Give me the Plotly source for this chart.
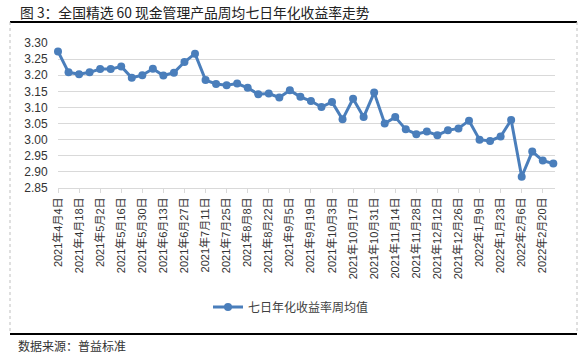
import plotly.graph_objects as go

weeks = [
    "2021-04-04", "2021-04-11", "2021-04-18", "2021-04-25", "2021-05-02", "2021-05-09",
    "2021-05-16", "2021-05-23", "2021-05-30", "2021-06-06", "2021-06-13", "2021-06-20",
    "2021-06-27", "2021-07-04", "2021-07-11", "2021-07-18", "2021-07-25", "2021-08-01",
    "2021-08-08", "2021-08-15", "2021-08-22", "2021-08-29", "2021-09-05", "2021-09-12",
    "2021-09-19", "2021-09-26", "2021-10-03", "2021-10-10", "2021-10-17", "2021-10-24",
    "2021-10-31", "2021-11-07", "2021-11-14", "2021-11-21", "2021-11-28", "2021-12-05",
    "2021-12-12", "2021-12-19", "2021-12-26", "2022-01-02", "2022-01-09", "2022-01-16",
    "2022-01-23", "2022-01-30", "2022-02-06", "2022-02-13", "2022-02-20", "2022-02-27",
]

yield_7d = [
    3.274, 3.209, 3.203, 3.209, 3.219, 3.219, 3.227, 3.192, 3.200, 3.220, 3.199, 3.208,
    3.241, 3.267, 3.185, 3.173, 3.169, 3.174, 3.161, 3.141, 3.143, 3.131, 3.153, 3.133,
    3.120, 3.101, 3.117, 3.063, 3.127, 3.070, 3.146, 3.050, 3.070, 3.032, 3.017, 3.025,
    3.014, 3.029, 3.035, 3.059, 3.000, 2.996, 3.010, 3.061, 2.885, 2.963, 2.935, 2.926,
]

tick_labels = [
    "2021年4月4日", "2021年4月18日", "2021年5月2日", "2021年5月16日", "2021年5月30日",
    "2021年6月13日", "2021年6月27日", "2021年7月11日", "2021年7月25日", "2021年8月8日",
    "2021年8月22日", "2021年9月5日", "2021年9月19日", "2021年10月3日", "2021年10月17日",
    "2021年10月31日", "2021年11月14日", "2021年11月28日", "2021年12月12日", "2021年12月26日",
    "2022年1月9日", "2022年1月23日", "2022年2月6日", "2022年2月20日",
]
tick_weeks = weeks[::2]

y_ticks = [2.85, 2.90, 2.95, 3.00, 3.05, 3.10, 3.15, 3.20, 3.25, 3.30]

series_name = "七日年化收益率周均值"
title_text = "图 3：全国精选 60 现金管理产品周均七日年化收益率走势"
source_text = "数据来源：普益标准"

W, H = 587, 355
L, R, T, B = 58, 32, 43, 167
pw, ph = W - L - R, H - T - B

def px_x(p):
    return (p - L) / pw

def px_y(p):
    return (H - B - p) / ph

FONT = "Liberation Sans, Noto Sans CJK SC, sans-serif"
CJK = "Noto Sans CJK SC, Liberation Sans, sans-serif"
BLUE = "#4A7EBB"

fig = go.Figure()
fig.add_trace(go.Scatter(
    x=list(range(len(weeks))), y=yield_7d, mode="lines+markers", name=series_name,
    line=dict(color=BLUE, width=3), marker=dict(color=BLUE, size=8),
    cliponaxis=False,
))

tick_idx = [weeks.index(w) for w in tick_weeks]

fig.update_layout(
    width=W, height=H, margin=dict(l=L, r=R, t=T, b=B, pad=0),
    paper_bgcolor="white", plot_bgcolor="white",
    font=dict(family=FONT, size=11, color="#404040"),
    showlegend=True,
    legend=dict(orientation="h", x=px_x(208), y=px_y(307), xanchor="left", yanchor="middle",
                font=dict(family=CJK, size=12, color="#404040"), bgcolor="rgba(0,0,0,0)"),
    xaxis=dict(
        range=[0, 47.16], tickmode="array", tickvals=tick_idx, ticktext=tick_labels,
        tickangle=-90, ticks="outside", ticklen=4, tickcolor="#D9D9D9",
        showline=True, linecolor="#D9D9D9", linewidth=1, showgrid=False, zeroline=False,
        tickfont=dict(family=FONT, size=11, color="#333333"),
    ),
    yaxis=dict(
        range=[2.85, 3.30], tickmode="array", tickvals=y_ticks,
        ticktext=[f"{v:.2f}" for v in y_ticks],
        showgrid=True, gridcolor="#D9D9D9", gridwidth=1, zeroline=False, showline=False,
        ticks="outside", ticklen=7, tickcolor="rgba(0,0,0,0)",
        tickfont=dict(family=FONT, size=12, color="#333333"),
    ),
)

fig.add_annotation(text=title_text, xref="paper", yref="paper", x=px_x(18), y=px_y(12),
                   xanchor="left", yanchor="middle", showarrow=False,
                   font=dict(family=CJK, size=13.8, color="#222222"))
fig.add_annotation(text=source_text, xref="paper", yref="paper", x=px_x(16), y=px_y(345),
                   xanchor="left", yanchor="middle", showarrow=False,
                   font=dict(family=CJK, size=12, color="#333333"))

for yy in (22, 334):
    fig.add_shape(type="line", xref="paper", yref="paper", x0=px_x(10), x1=px_x(577),
                  y0=px_y(yy), y1=px_y(yy), line=dict(color="black", width=2))
for xx in (10, 577):
    fig.add_shape(type="line", xref="paper", yref="paper", x0=px_x(xx), x1=px_x(xx),
                  y0=px_y(22), y1=px_y(334), line=dict(color="#BFBFBF", width=1, dash="dot"))

fig.write_html("out.html", config={"displayModeBar": False},
               post_script="document.body.style.margin='0';document.body.style.overflow='hidden';")
